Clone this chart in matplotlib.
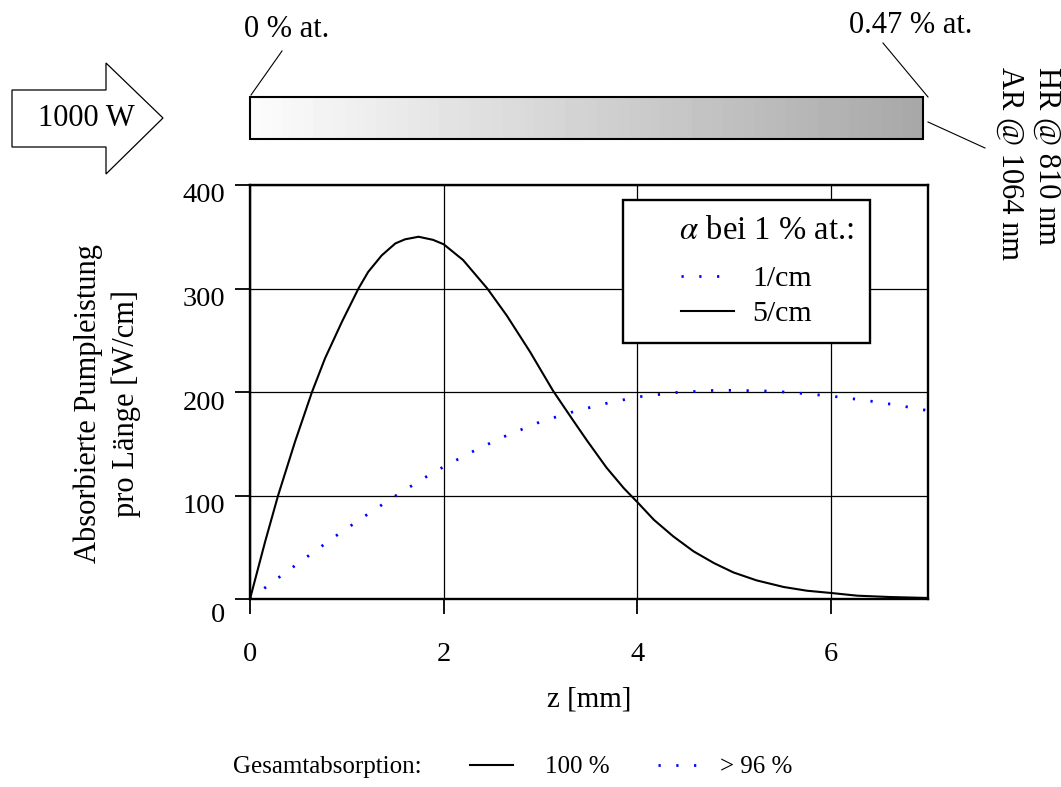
import numpy as np
import matplotlib
matplotlib.use("Agg")
import matplotlib.pyplot as plt
import matplotlib.transforms as mtransforms
from matplotlib.patches import Polygon, Rectangle

plt.rcParams['font.family'] = ['Liberation Serif', 'DejaVu Serif']
plt.rcParams['mathtext.fontset'] = 'stix'

# absorbed pump power per length along the rod, alpha = 5/cm at 1 % at.
z_5cm = [0, 0.155, 0.29, 0.465, 0.64, 0.775, 0.95, 1.12, 1.22, 1.36, 1.5, 1.6,
         1.74, 1.89, 2.0, 2.2, 2.45, 2.65, 2.89, 3.13, 3.34, 3.48, 3.68, 3.86,
         4.0, 4.17, 4.37, 4.58, 4.79, 4.99, 5.23, 5.51, 5.75, 6.0, 6.27, 6.61, 7.0]
p_5cm = [0, 55, 100, 152, 200, 232.6, 268, 300, 316, 332, 343.5, 347.5,
         350, 347, 342.7, 327.5, 300, 274, 239, 201, 172, 153, 127, 107,
         93.5, 76.5, 60.5, 46, 34.7, 25.7, 18, 11.6, 8.0, 5.8, 3.2, 1.9, 1.0]

# same for alpha = 1/cm at 1 % at.
z_1cm = [0, 0.3, 0.6, 0.9, 1.2, 1.5, 1.8, 2.0, 2.3, 2.6, 3.0, 3.35, 3.7, 4.0,
         4.4, 4.8, 5.0, 5.4, 5.75, 6.1, 6.5, 6.85, 7.0]
p_1cm = [0, 21, 41.5, 61.8, 81, 99.5, 117, 127.8, 142.5, 156, 171.3, 181.3,
         189.5, 195.2, 199.5, 201.6, 201.6, 200.8, 198.3, 195, 190, 184.6, 182]

x_ticks = [0, 2, 4, 6]
y_ticks = [0, 100, 200, 300, 400]

W, H = 1061, 787
fig = plt.figure(figsize=(W / 100, H / 100), dpi=100)

# ---- decoration layer in pixel coordinates (rod, arrow, labels) ----
ov = fig.add_axes([0, 0, 1, 1], zorder=-1)
ov.set_axis_off()
ov.patch.set_visible(False)

# doping gradient of the rod
grad = np.linspace(252, 168, 64)[None, :]
ov.imshow(grad, cmap='gray', vmin=0, vmax=255, extent=(250, 923, 139, 97),
          aspect='auto', interpolation='nearest')
ov.add_patch(Rectangle((250, 97), 673, 42, fill=False, ec='black', lw=1.5))

# pump arrow
arrow = Polygon([(12, 90), (106, 90), (106, 63), (163, 118), (106, 174),
                 (106, 147), (12, 147)], closed=True, fc='white', ec='black', lw=0.9)
ov.add_patch(arrow)
ov.text(86, 119, '1000 W', ha='center', va='center', fontsize=22)

ov.text(287, 37, '0 % at.', ha='center', va='baseline', fontsize=22)
ov.text(911, 33, '0.47 % at.', ha='center', va='baseline', fontsize=22)
ov.plot([282, 251], [51, 95], color='black', lw=0.8)
ov.plot([883, 928], [43, 97], color='black', lw=0.8)
ov.plot([928, 985], [122, 148], color='black', lw=0.8)

ov.text(1047, 67, 'HR @ 810 nm', rotation=270, ha='center', va='top', fontsize=22)
ov.text(1010, 67, 'AR @ 1064 nm', rotation=270, ha='center', va='top', fontsize=22)

ov.set_xlim(0, W)
ov.set_ylim(H, 0)

# ---- main plot ----
ax = fig.add_axes([250 / W, (H - 599) / H, 678 / W, 414 / H])
l1, = ax.plot(z_1cm, p_1cm, color='#0000ff', lw=2.0, linestyle=(0, (0.8, 5.6)))
l5, = ax.plot(z_5cm, p_5cm, color='black', lw=1.5)

ax.set_xlim(0, 7)
ax.set_ylim(0, 400)
ax.set_xticks(x_ticks)
ax.set_yticks(y_ticks)
ax.grid(True, color='black', lw=0.9)
ax.set_axisbelow(True)
for s in ax.spines.values():
    s.set_linewidth(1.7)
ax.tick_params(direction='out', length=11, width=1.3, labelsize=20.5)
ax.tick_params(axis='x', pad=20)
ax.tick_params(axis='y', pad=7)

ax.set_xlabel('z [mm]', fontsize=21, labelpad=14)
ax.set_ylabel('Absorbierte Pumpleistung\npro Länge [W/cm]', fontsize=22,
              linespacing=1.4)
ax.yaxis.set_label_coords(-0.1606, 0.473)

# y tick labels sit slightly below their grid lines
for lab, dy in zip(ax.get_yticklabels(), [-14, -8, -8, -8, -8]):
    lab.set_transform(lab.get_transform() +
                      mtransforms.ScaledTranslation(0, dy / 100, fig.dpi_scale_trans))

fs_leg = 21.5
leg = ax.legend([l1, l5], ['1/cm', '5/cm'],
                title='     $\\alpha$ bei 1 % at.:', title_fontsize=23.5,
                fontsize=fs_leg, loc='upper left',
                bbox_to_anchor=((623 - 250) / 678, (599 - 200) / 414),
                borderaxespad=0, borderpad=0.53, handlelength=1.8,
                handletextpad=0.6, labelspacing=0.27, fancybox=False,
                framealpha=1, edgecolor='black')
leg.get_frame().set_linewidth(1.7)
# a little more room between the title and the entries
leg._legend_box.sep = 0.27 * fs_leg + 8

# ---- total absorption key below the plot ----
fig.text(233 / W, 1 - 767 / H, 'Gesamtabsorption:', ha='left', va='center', fontsize=18)
fig.legend([l5], ['100 %'], frameon=False, fontsize=18,
           loc='center left', bbox_to_anchor=(470 / W, 1 - 767 / H),
           borderpad=0, borderaxespad=0, handlelength=1.72, handletextpad=1.28)
fig.legend([l1], ['> 96 %'], frameon=False, fontsize=18,
           loc='center left', bbox_to_anchor=(658 / W, 1 - 767 / H),
           borderpad=0, borderaxespad=0, handlelength=1.55, handletextpad=0.92)

fig.savefig('out.png', dpi=100)
